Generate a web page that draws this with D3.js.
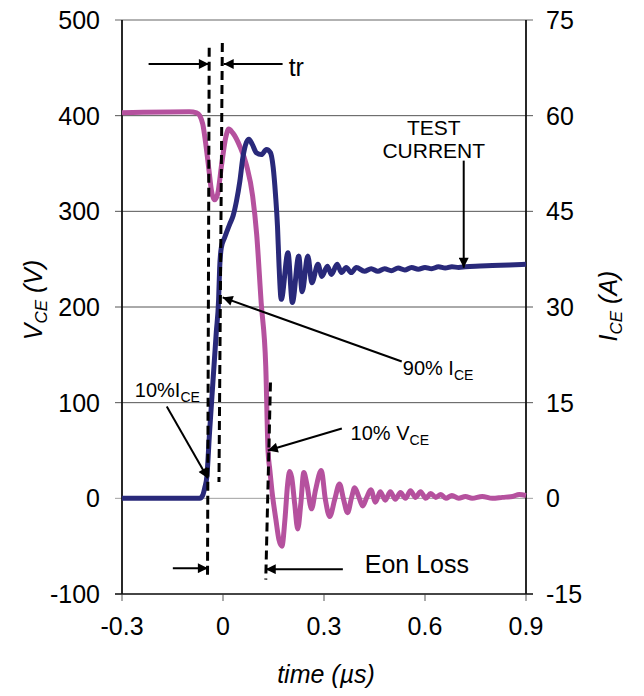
<!DOCTYPE html>
<html>
<head>
<meta charset="utf-8">
<script src="https://cdn.jsdelivr.net/npm/d3@7"></script>
<style>
  body { margin: 0; background: #fff; }
  svg { font-family: "Liberation Sans", Arial, sans-serif; }
</style>
</head>
<body>
<div id="chart"></div>
<script>

// VCE trace (time in us, volts)
let vceTime = [-0.30, -0.10, -0.078, -0.069, -0.060, -0.051, -0.042, -0.034, -0.025, -0.016,
  -0.004, 0.008, 0.017, 0.029, 0.05, 0.07, 0.088, 0.10, 0.1135, 0.127,
  0.1337, 0.139, 0.145, 0.157, 0.166, 0.175, 0.184, 0.192, 0.198,
  0.204, 0.213, 0.222, 0.231, 0.24, 0.249, 0.263, 0.275, 0.292, 0.304,
  0.317, 0.332, 0.346, 0.358, 0.37, 0.382, 0.391, 0.403, 0.415, 0.427,
  0.439, 0.453, 0.467, 0.482, 0.497, 0.512, 0.527, 0.542, 0.557, 0.572,
  0.587, 0.602, 0.617, 0.632, 0.647, 0.662, 0.68, 0.70, 0.72, 0.74,
  0.77, 0.80, 0.83, 0.86, 0.88, 0.90];
let vceVal = [403, 404, 403, 400, 391, 370, 344, 321, 312, 318,
  349, 377, 386, 382, 368, 348, 316, 276, 204, 138,
  50, 30, 9, -22, -43, -50, -22, 15, 28,
  22, -6, -32, -6, 27, 15, -11, 9, 29, -1,
  -19, -1, 15, -1, -15, 1, 11, 2, -8, 1,
  9, -4, 7, -2, 7, -1, 6, 0, 8, 1,
  7, 0, 5, 1, 4, 0, 3, 0, 2, 0,
  2, 0, 1, 2, 4, 3];

// ICE trace (time in us, amps)
let iceTime = [-0.30, -0.069, -0.060, -0.054, -0.048, -0.040, -0.030, -0.020, -0.013, -0.010,
  -0.005, 0.005, 0.020, 0.030, 0.040, 0.050, 0.059, 0.0695, 0.077, 0.087,
  0.099, 0.114, 0.129, 0.141, 0.149, 0.156, 0.162, 0.166, 0.173, 0.193,
  0.206, 0.225, 0.235, 0.252, 0.264, 0.282, 0.294, 0.310, 0.322, 0.339,
  0.352, 0.366, 0.381, 0.396, 0.42, 0.44, 0.46, 0.48, 0.50,
  0.52, 0.54, 0.56, 0.58, 0.60, 0.62, 0.64, 0.66, 0.68, 0.70,
  0.72, 0.75, 0.80, 0.85, 0.90];
let iceVal = [0, 0, 0.5, 1.7, 3.4, 10.3, 18.2, 26, 31.2, 36,
  39.3, 40.9, 43, 44.3, 46.6, 49.7, 53.4, 55.8, 56.3, 55.5,
  54.2, 53.9, 54.7, 54.2, 51.9, 47.6, 42.5, 37.1, 31.2, 38.5,
  30.7, 38, 32.4, 38, 33.8, 36.7, 34.8, 36.4, 35.1, 36.7,
  35.4, 36.2, 35.4, 36.2, 35.6, 36.0, 35.6, 36.0, 35.7,
  36.1, 35.8, 36.2, 35.9, 36.2, 36.0, 36.3, 36.1, 36.3, 36.2,
  36.3, 36.4, 36.5, 36.6, 36.7];

let vTicks = [-100, 0, 100, 200, 300, 400, 500];
let iTicks = [-15, 0, 15, 30, 45, 60, 75];
let tTicks = [-0.3, 0, 0.3, 0.6, 0.9];
let tTickLabels = ['-0.3', '0', '0.3', '0.6', '0.9'];

// dashed markers, [t0, v0, t1, v1] in axis units
let dashLines = [
  [-0.041, 471, -0.046, -83],
  [-0.002, 476, -0.012, 17],
  [0.141, 121, 0.127, -85]
];

// annotation arrows, [t0, v0, t1, v1], head at the second point
let arrows = [
  [-0.221, 454, -0.042, 454],
  [0.177, 454, 0.002, 454],
  [0.715, 353, 0.715, 241],
  [0.531, 143, -0.001, 210],
  [-0.167, 96, -0.045, 21],
  [0.353, 73, 0.133, 50],
  [-0.149, -73, -0.045, -73],
  [0.356, -74, 0.127, -74]
];

let width = 644, height = 696;
let plot = {left: 122, right: 526, top: 20, bottom: 594};

let svg = d3.select('#chart').append('svg')
    .attr('width', width)
    .attr('height', height);

let xscale = d3.scaleLinear().domain([-0.3, 0.9]).range([plot.left, plot.right]);
let yscale = d3.scaleLinear().domain([-100, 500]).range([plot.bottom, plot.top]);
let y2scale = d3.scaleLinear().domain([-15, 75]).range([plot.bottom, plot.top]);

// horizontal gridlines (they poke out past both axes as tick marks)
svg.append('g')
  .selectAll('line')
  .data(vTicks)
  .enter().append('line')
    .attr('x1', plot.left - 7)
    .attr('x2', plot.right + 7)
    .attr('y1', d => yscale(d))
    .attr('y2', d => yscale(d))
    .attr('stroke', d => d == 0 ? '#a0a0a0' : (d == 500 ? '#999' : '#555'))
    .attr('stroke-width', d => (d == 500 || d == -100) ? 1.5 : 1);

// x tick marks
svg.append('g')
  .selectAll('line')
  .data(tTicks)
  .enter().append('line')
    .attr('x1', d => xscale(d))
    .attr('x2', d => xscale(d))
    .attr('y1', plot.bottom)
    .attr('y2', plot.bottom + 7)
    .attr('stroke', '#555')
    .attr('stroke-width', 1);

// axis lines
svg.append('line')
  .attr('x1', plot.left - 7).attr('x2', plot.right + 7)
  .attr('y1', plot.bottom).attr('y2', plot.bottom)
  .attr('stroke', '#333').attr('stroke-width', 1.5);

[plot.left, plot.right].forEach(function(x) {
  svg.append('line')
    .attr('x1', x).attr('x2', x)
    .attr('y1', plot.top).attr('y2', plot.bottom)
    .attr('stroke', '#111').attr('stroke-width', 1.8);
});

// tick labels
svg.append('g')
  .selectAll('text')
  .data(vTicks)
  .enter().append('text')
    .attr('x', 100)
    .attr('y', d => yscale(d) + 9)
    .attr('text-anchor', 'end')
    .attr('font-size', 25)
    .text(d => d);

svg.append('g')
  .selectAll('text')
  .data(iTicks)
  .enter().append('text')
    .attr('x', 546)
    .attr('y', d => y2scale(d) + 9)
    .attr('font-size', 25)
    .text(d => d);

svg.append('g')
  .selectAll('text')
  .data(tTicks)
  .enter().append('text')
    .attr('x', d => xscale(d))
    .attr('y', 635)
    .attr('text-anchor', 'middle')
    .attr('font-size', 25)
    .text((d, i) => tTickLabels[i]);

// axis titles
svg.append('text')
  .attr('x', (plot.left + plot.right) / 2 + 2)
  .attr('y', 683)
  .attr('text-anchor', 'middle')
  .attr('font-size', 25)
  .attr('font-style', 'italic')
  .text('time (µs)');

function axis_title(x, y, main, rest) {
  let t = svg.append('text')
    .attr('transform', 'translate(' + x + ',' + y + ') rotate(-90)')
    .attr('text-anchor', 'middle')
    .attr('font-size', 25)
    .attr('font-style', 'italic');
  t.append('tspan').text(main);
  t.append('tspan').attr('font-size', 17).attr('dy', 5).text('CE');
  t.append('tspan').attr('dy', -5).text(' ' + rest);
}
axis_title(42, 300, 'V', '(V)');
axis_title(617, 306, 'I', '(A)');

// traces
let vcePoints = vceTime.map((t, i) => [t, vceVal[i]]);
let icePoints = iceTime.map((t, i) => [t, iceVal[i]]);

let vceLine = d3.line()
  .x(d => xscale(d[0]))
  .y(d => yscale(d[1]))
  .curve(d3.curveMonotoneX);

let iceLine = d3.line()
  .x(d => xscale(d[0]))
  .y(d => y2scale(d[1]))
  .curve(d3.curveMonotoneX);

svg.append('path')
  .attr('d', vceLine(vcePoints))
  .attr('fill', 'none')
  .attr('stroke', '#b5519e')
  .attr('stroke-width', 5)
  .attr('stroke-linejoin', 'round');

svg.append('path')
  .attr('d', iceLine(icePoints))
  .attr('fill', 'none')
  .attr('stroke', '#29297a')
  .attr('stroke-width', 5)
  .attr('stroke-linejoin', 'round');

// annotations
svg.append('defs').append('marker')
  .attr('id', 'head')
  .attr('viewBox', '0 0 10 10')
  .attr('refX', 10).attr('refY', 5)
  .attr('markerWidth', 11).attr('markerHeight', 10)
  .attr('markerUnits', 'userSpaceOnUse')
  .attr('orient', 'auto')
  .append('path')
    .attr('d', 'M0,0 L10,5 L0,10 Z')
    .attr('fill', '#000');

svg.append('g')
  .selectAll('line')
  .data(dashLines)
  .enter().append('line')
    .attr('x1', d => xscale(d[0])).attr('y1', d => yscale(d[1]))
    .attr('x2', d => xscale(d[2])).attr('y2', d => yscale(d[3]))
    .attr('stroke', '#000')
    .attr('stroke-width', 3)
    .attr('stroke-dasharray', '9,5');

svg.append('g')
  .selectAll('line')
  .data(arrows)
  .enter().append('line')
    .attr('x1', d => xscale(d[0])).attr('y1', d => yscale(d[1]))
    .attr('x2', d => xscale(d[2])).attr('y2', d => yscale(d[3]))
    .attr('stroke', '#000')
    .attr('stroke-width', 2)
    .attr('marker-end', 'url(#head)');

function note(t, v, size, main, sub, anchor) {
  let txt = svg.append('text')
    .attr('x', xscale(t))
    .attr('y', yscale(v))
    .attr('font-size', size)
    .attr('text-anchor', anchor || 'start');
  txt.append('tspan').text(main);
  if (sub) txt.append('tspan').attr('font-size', size * 0.7).attr('dy', 5).text(sub);
}

note(0.195, 441, 25, 'tr');
note(0.626, 380, 21, 'TEST', null, 'middle');
note(0.626, 356, 21, 'CURRENT', null, 'middle');
note(0.534, 129, 20, '90% I', 'CE');
note(-0.262, 106, 20, '10%I', 'CE');
note(0.379, 61, 20, '10% V', 'CE');
note(0.421, -78, 25, 'Eon Loss');

</script>
</body>
</html>
